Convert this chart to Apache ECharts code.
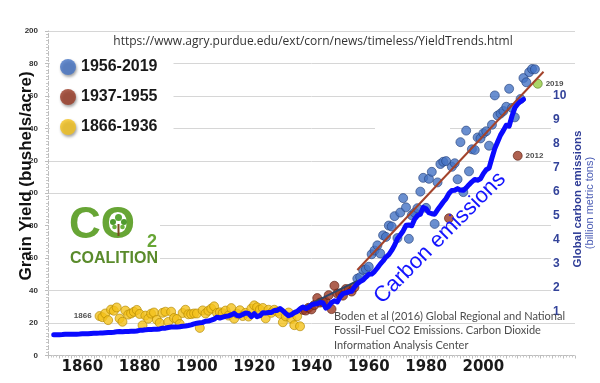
<!DOCTYPE html>
<html><head><meta charset="utf-8">
<script src="https://cdn.jsdelivr.net/npm/echarts@6/dist/echarts.min.js"></script>
<style>html,body{margin:0;padding:0;background:#fff}#c{width:600px;height:383px}</style>
</head><body><div id="c"></div>
<script>
// ---- data ----
const yieldYellowStart = 1866; // 1866-1936
const yieldYellow = [24.3,23.6,25.9,21.8,28.3,27.6,29.6,22.8,20.8,27.7,
  25.2,25.9,26.9,28.1,25.6,18.6,24.6,22.7,25.8,26.5,
  22.0,20.1,26.3,27.0,20.7,27.0,23.1,22.5,19.4,26.2,
  28.2,25.4,25.5,25.9,25.9,17.0,27.8,25.9,27.6,28.9,
  30.3,26.2,26.6,26.1,27.7,24.6,29.2,22.7,25.8,27.9,
  24.3,26.3,24.0,28.9,30.9,29.7,28.3,29.3,22.9,28.2,
  26.3,28.2,27.0,25.7,20.5,24.1,26.5,22.6,18.7,24.2,18.0];
const yieldBrownStart = 1937; // 1937-1955
const yieldBrown = [28.1,27.7,29.4,28.4,31.1,35.4,32.6,33.0,33.1,37.2,
  28.6,43.0,38.2,38.2,36.9,41.0,40.7,39.4,42.0];
const yieldBlueStart = 1956; // 1956-2019
const yieldBlue = [47.4,48.3,52.8,53.1,54.7,62.4,64.7,67.9,62.9,74.1,
  73.1,80.1,79.5,85.9,72.4,88.1,97.0,91.3,71.9,86.4,
  88.0,90.8,101.0,109.5,91.0,108.9,113.2,81.1,106.7,118.0,
  119.4,119.8,84.6,116.3,118.5,108.6,131.5,100.7,138.6,113.5,
  127.1,126.7,134.4,133.8,136.9,138.2,129.3,142.2,160.3,147.9,
  149.1,150.7,153.3,164.4,152.6,146.8,123.1,158.1,171.0,168.4,
  174.6,176.6,176.4,167.5];
const brownHighlightYears = [1988, 2012];
const labelledYears = [1866, 2012, 2019];
const greenYear = 2019;

const carbonStart = 1850; // global carbon emissions, billion metric tons
const carbon = [0.054,0.054,0.057,0.059,0.069,0.071,0.076,0.077,0.078,0.083,
  0.091,0.095,0.097,0.104,0.112,0.119,0.122,0.130,0.135,0.142,
  0.147,0.156,0.173,0.184,0.174,0.188,0.191,0.194,0.196,0.210,
  0.236,0.243,0.256,0.272,0.275,0.277,0.281,0.295,0.327,0.327,
  0.356,0.372,0.374,0.370,0.383,0.406,0.419,0.440,0.465,0.507,
  0.534,0.552,0.566,0.617,0.624,0.663,0.707,0.784,0.750,0.785,
  0.819,0.836,0.879,0.943,0.850,0.838,0.901,0.955,0.936,0.806,
  0.932,0.803,0.845,0.970,0.963,0.975,0.983,1.062,1.065,1.145,
  1.053,0.940,0.847,0.893,0.973,1.027,1.130,1.209,1.142,1.192,
  1.299,1.334,1.342,1.391,1.383,1.160,1.238,1.392,1.469,1.419,
  1.630,1.767,1.795,1.841,1.865,2.043,2.177,2.270,2.330,2.454,
  2.569,2.580,2.686,2.833,2.995,3.130,3.288,3.393,3.566,3.780,
  4.053,4.208,4.376,4.614,4.623,4.596,4.864,5.016,5.074,5.357,
  5.301,5.138,5.094,5.075,5.258,5.417,5.583,5.725,5.936,6.066,
  6.074,6.142,6.078,6.070,6.174,6.305,6.425,6.525,6.493,6.554,
  6.765,6.927,6.996,7.416,7.807,8.093,8.370,8.566,8.783,8.740,
  9.167,9.508,9.667,9.776,9.855];

const trendModernYears = [1956, 2021];
const trendModernValues = [52.7, 174.9];
const trendMidYears = [1937, 1956];
const trendMidValues = [29.5, 46.0];

const xTickLabels = [1860, 1880, 1900, 1920, 1940, 1960, 1980, 2000];
const yTickValues = [0, 20, 40, 60, 80, 100, 120, 140, 160, 180, 200];
const yTickTexts  = ['0','20','40','60','80','00','20','40','60','80','200'];
const rightTickLabels = [1,2,3,4,5,6,7,8,9,10];
const legendNames = ['1956-2019', '1937-1955', '1866-1936'];

// ---- build ----
const COL = {
  yellow: '#f4c21c', yellowB: '#b08600',
  brown: '#9a3a24', brownB: '#5c1d0e',
  blue: '#4573c4', blueB: '#24407a',
  green: '#96cc44', greenB: '#55801f'
};
const ptLabel = (pos) => ({show: true, position: pos, distance: 3,
  fontSize: 8, fontWeight: 'bold', color: '#222', fontFamily: 'Liberation Sans',
  formatter: p => String(p.value[0])});

function pt(year, v) {
  const item = {value: [year, v]};
  if (labelledYears.includes(year)) item.label = ptLabel(year === 1866 ? 'left' : 'right');
  return item;
}
const yellowData = yieldYellow.map((v, i) => pt(yieldYellowStart + i, v));
const brownData = yieldBrown.map((v, i) => pt(yieldBrownStart + i, v));
const blueData = [], greenData = [];
yieldBlue.forEach((v, i) => {
  const y = yieldBlueStart + i;
  if (brownHighlightYears.includes(y)) brownData.push(pt(y, v));
  else if (y === greenYear) greenData.push(pt(y, v));
  else blueData.push(pt(y, v));
});
const carbonData = carbon.map((v, i) => [carbonStart + i, v]);
const modernTrend = trendModernYears.map((y, i) => [y, trendModernValues[i]]);
const midTrend = trendMidYears.map((y, i) => [y, trendMidValues[i]]);

const scatterStyle = (c, b) => ({color: c, borderColor: b, borderWidth: 0.8});

const chart = echarts.init(document.getElementById('c'), null, {renderer: 'canvas'});
chart.setOption({
  animation: false,
  backgroundColor: '#fff',
  grid: [
    {left: 48, right: 25, top: 31, bottom: 27.5},
    {left: 48, right: 25, top: 48, bottom: 47}
  ],
  xAxis: [
    {type: 'value', gridIndex: 0, min: 1848, max: 2032, interval: 4,
     axisLine: {show: true, lineStyle: {color: '#bdbdbd', type: 'dashed', width: 1}},
     axisTick: {show: true, length: 3, lineStyle: {color: '#bdbdbd'}},
     minorTick: {show: true, splitNumber: 4, length: 2, lineStyle: {color: '#c8c8c8'}},
     splitLine: {show: false},
     axisLabel: {formatter: v => xTickLabels.includes(v) ? String(v) : '',
       fontFamily: 'DejaVu Sans', fontWeight: 'bold', fontSize: 15, color: '#1a1a1a', margin: 4}},
    {type: 'value', gridIndex: 1, min: 1848, max: 2032, show: false}
  ],
  yAxis: [
    {type: 'value', gridIndex: 0, min: 0, max: 200, interval: 20,
     axisLine: {show: true, lineStyle: {color: '#bdbdbd', type: 'dashed', width: 1}},
     axisTick: {show: true, length: 3, lineStyle: {color: '#bdbdbd'}},
     minorTick: {show: true, splitNumber: 10, length: 2, lineStyle: {color: '#c8c8c8'}},
     splitLine: {show: true, lineStyle: {color: '#d6d6d6', width: 1}},
     axisLabel: {formatter: v => yTickTexts[yTickValues.indexOf(v)] ?? '',
       fontFamily: 'Liberation Sans', fontWeight: 'bold', fontSize: 8, color: '#333', margin: 10}},
    {type: 'value', gridIndex: 1, min: 0, max: 12, interval: 1, position: 'right', offset: -25, z: 5,
     axisLine: {show: false}, axisTick: {show: false}, splitLine: {show: false},
     axisLabel: {formatter: v => rightTickLabels.includes(v) ? String(v) : '',
       fontFamily: 'Liberation Sans', fontWeight: 'bold', fontSize: 12, color: '#33439a', margin: 3}}
  ],
  legend: {
    orient: 'vertical', left: 50, top: 51, itemWidth: 16, itemHeight: 16, itemGap: 14,
    icon: 'circle', backgroundColor: '#fff', padding: [8, 16, 8, 10],
    data: legendNames,
    textStyle: {fontSize: 16, fontWeight: 'bold', color: '#1a1a1a', fontFamily: 'Liberation Sans', lineHeight: 16},
    itemStyle: {shadowBlur: 3, shadowColor: 'rgba(0,0,0,0.45)', shadowOffsetX: 1, shadowOffsetY: 2, borderWidth: 0}
  },
  graphic: [
    {type: 'rect', z: 1, shape: {x: 49, y: 199, width: 111, height: 69}, style: {fill: '#fff'}},
    {type: 'rect', z: 1, shape: {x: 375, y: 121, width: 75, height: 12}, style: {fill: '#fff'}},
    {type: 'rect', z: 1, shape: {x: 551, y: 88, width: 49, height: 230}, style: {fill: '#fff'}},
    {type: 'text', z: 10, x: 313, y: 42, style: {text: 'https://www.agry.purdue.edu/ext/corn/news/timeless/YieldTrends.html',
      font: '12px "Open Sans"', fill: '#333', textAlign: 'center', textVerticalAlign: 'middle'}},
    {type: 'text', z: 10, x: 334, y: 309, style: {text: 'Boden et al (2016) Global Regional and National\nFossil-Fuel CO2 Emissions. Carbon Dioxide\nInformation Analysis Center',
      font: '11px Lato', lineHeight: 14.5, fill: '#4d4d4d', textAlign: 'left', textVerticalAlign: 'top'}},
    {type: 'text', z: 10, x: 440, y: 238, rotation: Math.PI / 4, style: {text: 'Carbon emissions',
      font: '22px "Liberation Sans"', fill: '#1414ff', textAlign: 'center', textVerticalAlign: 'middle'}},
    {type: 'text', z: 10, x: 26, y: 176, rotation: Math.PI / 2, style: {text: 'Grain Yield (bushels/acre)',
      font: 'bold 17px "Liberation Sans"', fill: '#111', textAlign: 'center', textVerticalAlign: 'middle'}},
    {type: 'text', z: 10, x: 578, y: 199, rotation: Math.PI / 2, style: {text: 'Global carbon emissions',
      font: 'bold 11.5px "Liberation Sans"', fill: '#2d3b96', textAlign: 'center', textVerticalAlign: 'middle'}},
    {type: 'text', z: 10, x: 590, y: 203, rotation: Math.PI / 2, style: {text: '(billion metric tons)',
      font: '11px "Liberation Sans"', fill: '#4a5cb4', textAlign: 'center', textVerticalAlign: 'middle'}},
    // CO2 Coalition logo
    {type: 'text', z: 10, x: 69, y: 226, style: {text: 'CO', font: 'bold 44px "Liberation Sans"', fill: '#67a535',
      textAlign: 'left', textVerticalAlign: 'middle'}},
    {type: 'text', z: 10, x: 147, y: 242, style: {text: '2', font: 'bold 18px "Liberation Sans"', fill: '#67a535',
      textAlign: 'left', textVerticalAlign: 'middle'}},
    {type: 'text', z: 10, x: 70, y: 259, style: {text: 'COALITION', font: 'bold 16px "Liberation Sans"', fill: '#5a8b2b',
      textAlign: 'left', textVerticalAlign: 'middle'}},
    {type: 'rect', z: 11, shape: {x: 117.5, y: 224, width: 2, height: 12}, style: {fill: '#7a4a22'}},
    {type: 'circle', z: 11, shape: {cx: 113, cy: 222, r: 3}, style: {fill: '#4f9a2f'}},
    {type: 'circle', z: 11, shape: {cx: 118.5, cy: 217.5, r: 3.5}, style: {fill: '#5aa636'}},
    {type: 'circle', z: 11, shape: {cx: 124, cy: 222, r: 3}, style: {fill: '#4f9a2f'}},
    {type: 'circle', z: 11, shape: {cx: 114.5, cy: 227, r: 2.3}, style: {fill: '#6cb440'}},
    {type: 'circle', z: 11, shape: {cx: 122.5, cy: 227, r: 2.3}, style: {fill: '#6cb440'}}
  ],
  series: [
    {name: '1866-1936', type: 'scatter', xAxisIndex: 0, yAxisIndex: 0, symbolSize: 9, z: 2,
     itemStyle: scatterStyle(COL.yellow, COL.yellowB), data: yellowData},
    {name: '1937-1955', type: 'scatter', xAxisIndex: 0, yAxisIndex: 0, symbolSize: 9, z: 2,
     itemStyle: scatterStyle(COL.brown, COL.brownB), data: brownData},
    {name: '1956-2019', type: 'scatter', xAxisIndex: 0, yAxisIndex: 0, symbolSize: 9, z: 2,
     itemStyle: scatterStyle(COL.blue, COL.blueB), data: blueData},
    {name: '2019', type: 'scatter', xAxisIndex: 0, yAxisIndex: 0, symbolSize: 9, z: 2,
     itemStyle: scatterStyle(COL.green, COL.greenB), data: greenData},
    {name: 'trend1937', type: 'line', xAxisIndex: 0, yAxisIndex: 0, symbol: 'none', z: 3,
     lineStyle: {color: '#2d4466', width: 2}, data: midTrend},
    {name: 'trend1956', type: 'line', xAxisIndex: 0, yAxisIndex: 0, symbol: 'none', z: 3,
     lineStyle: {color: '#a3432b', width: 2}, data: modernTrend},
    {name: 'carbon', type: 'line', xAxisIndex: 1, yAxisIndex: 1, symbol: 'none', z: 4,
     lineStyle: {color: '#0a0aff', width: 5, join: 'round', cap: 'round'}, data: carbonData}
  ]
});
</script>
</body></html>
